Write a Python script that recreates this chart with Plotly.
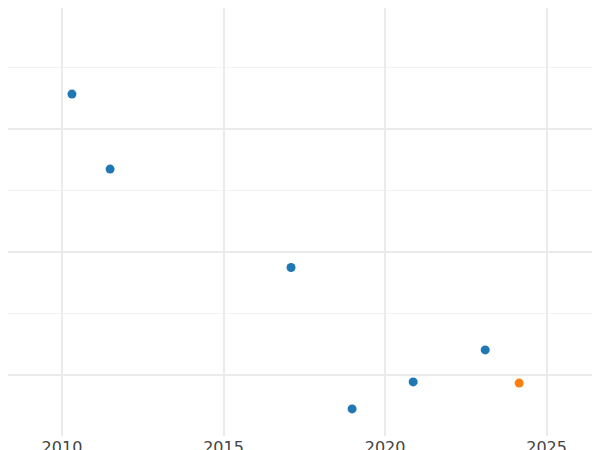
import plotly.graph_objects as go

years_blue = [2010.31, 2011.49, 2017.09, 2018.98, 2020.87, 2023.10]
values_blue = [2.28, 1.67, 0.87, -0.28, -0.06, 0.20]
years_orange = [2024.15]
values_orange = [-0.07]
tick_years = [2010, 2015, 2020, 2025]

fig = go.Figure()
fig.add_trace(go.Scatter(x=years_blue, y=values_blue, mode="markers",
                         marker=dict(color="#1f77b4", size=9)))
fig.add_trace(go.Scatter(x=years_orange, y=values_orange, mode="markers",
                         marker=dict(color="#ff7f0e", size=9)))
fig.update_layout(
    width=600, height=450, showlegend=False,
    plot_bgcolor="white", paper_bgcolor="white",
    margin=dict(l=0, r=0, t=0, b=22, autoexpand=False),
    font=dict(family="DejaVu Sans", size=16, color="#444"),
    xaxis=dict(range=[2008.33, 2026.9], tickvals=tick_years, ticktext=[str(t) for t in tick_years],
               showgrid=True, gridcolor="#ebebeb", gridwidth=2, zeroline=False, ticks="",
               ticklabelstandoff=0),
    yaxis=dict(range=[-0.5, 2.98], dtick=1, showticklabels=False, showgrid=True,
               gridcolor="#ebebeb", gridwidth=2, zeroline=False,
               minor=dict(dtick=0.5, showgrid=True, gridcolor="#f3f3f3", gridwidth=1)),
)
fig.write_html("out.html")
